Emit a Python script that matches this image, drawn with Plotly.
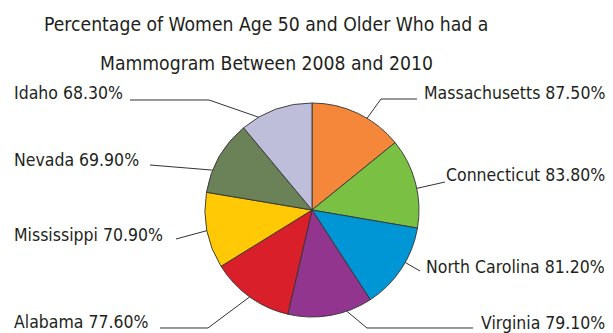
import math
import plotly.graph_objects as go

# Mammogram rates by state (percent), clockwise from 12 o'clock
states = ["Massachusetts", "Connecticut", "North Carolina", "Virginia",
          "Alabama", "Mississippi", "Nevada", "Idaho"]
rates = [87.5, 83.8, 81.2, 79.1, 77.6, 70.9, 69.9, 68.3]
colors = ["#F5873A", "#7AC143", "#0096D6", "#92358F",
          "#D9202A", "#FFCA05", "#6B8157", "#BEBEDB"]

W, H = 613, 333
FONT = "DejaVu Sans Condensed, Roboto, sans-serif"
TXT = "#231F20"

# pie placement in pixels
cx, cy, r = 312, 210, 107

# label placement: (side, text_y, line_start, elbow or None, anchor angle tweak in degrees)
label_layout = {
    "Massachusetts": ("right", 93, (417, 99), (381, 99), 5.5),
    "Connecticut": ("right", 175, (445, 182), None, 3),
    "North Carolina": ("right", 267, (420, 271), None, -4),
    "Virginia": ("right", 323, (473, 328), (367, 328), -9),
    "Alabama": ("left", 322, (160, 328), (208, 328), 0),
    "Mississippi": ("left", 235, (176, 239), None, 0),
    "Nevada": ("left", 160, (150, 165), None, -8),
    "Idaho": ("left", 93, (130, 100), (209, 100), -10),
}


def px(x):
    return x / W


def py(y):
    return 1 - y / H


fig = go.Figure(go.Pie(
    labels=states,
    values=rates,
    sort=False,
    direction="clockwise",
    rotation=0,
    marker=dict(colors=colors, line=dict(color="#333333", width=0.9)),
    textinfo="none",
    hoverinfo="label+value",
    domain=dict(x=[px(cx - r), px(cx + r)], y=[py(cy + r), py(cy - r)]),
    showlegend=False,
))

total = sum(rates)
cum = 0.0
annotations = []
shapes = []
for name, val in zip(states, rates):
    mid = (cum + val / 2) / total * 360
    cum += val
    side, ty, start, elbow, tweak = label_layout[name]
    ang = math.radians(mid + tweak)
    ex, ey = cx + r * math.sin(ang), cy - r * math.cos(ang)
    pts = [start] + ([elbow] if elbow else []) + [(ex, ey)]
    path = "M " + " L ".join(f"{px(x):.5f},{py(y):.5f}" for x, y in pts)
    shapes.append(dict(type="path", path=path, xref="paper", yref="paper",
                       line=dict(color="#333333", width=1)))
    annotations.append(dict(
        text=f"{name} {val:.2f}%", showarrow=False,
        x=px(12) if side == "left" else px(607), y=py(ty),
        xref="paper", yref="paper",
        xanchor=side, yanchor="middle",
        font=dict(family=FONT, size=17.5, color=TXT),
    ))

title_lines = ["Percentage of Women Age 50 and Older Who had a",
               "Mammogram Between 2008 and 2010"]
for line, ty in zip(title_lines, [24, 63]):
    annotations.append(dict(
        text=line, showarrow=False, x=px(266), y=py(ty),
        xref="paper", yref="paper", xanchor="center", yanchor="middle",
        font=dict(family=FONT, size=19.2, color=TXT),
    ))

fig.update_layout(
    width=W, height=H,
    margin=dict(l=0, r=0, t=0, b=0),
    paper_bgcolor="white", plot_bgcolor="white",
    annotations=annotations, shapes=shapes,
)

fig.write_html("out.html")
